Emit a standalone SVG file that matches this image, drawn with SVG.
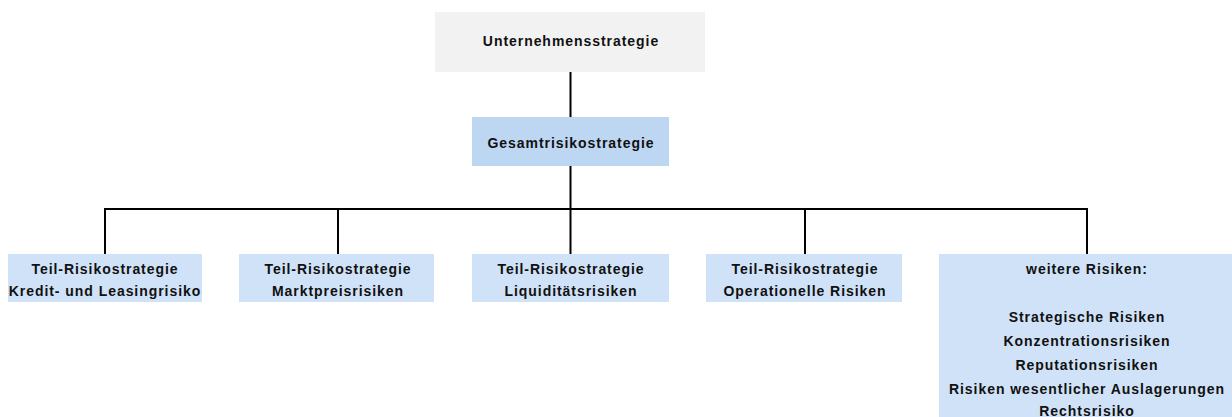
<svg xmlns="http://www.w3.org/2000/svg" width="1232" height="417" viewBox="0 0 1232 417">
<style>
.t{font-family:"Liberation Sans",Arial,sans-serif;font-weight:bold;font-size:14px;letter-spacing:0.95px;fill:#111;text-anchor:middle}
.leaf{fill:#cfe2f7}
.c{stroke:#000;stroke-width:2;fill:none}
</style>
<rect width="1232" height="417" fill="#fff"/>
<g id="connectors">
<path class="c" d="M570.5 72V117M570.5 166V209M105 209H1087M105 208V254M338 208V254M570.5 208V254M805 208V254M1087 208V254"/>
</g>
<g id="unternehmensstrategie">
<rect x="435" y="12" width="270" height="60" fill="#f2f2f2"/>
<text class="t" x="571" y="46">Unternehmensstrategie</text>
</g>
<g id="gesamtrisikostrategie">
<rect x="472" y="117" width="197" height="49" fill="#bdd7f3"/>
<text class="t" x="571" y="148">Gesamtrisikostrategie</text>
</g>
<g id="kredit">
<rect class="leaf" x="8" y="254" width="194" height="48"/>
<text class="t" x="105" y="274">Teil-Risikostrategie</text>
<text class="t" x="105" y="296">Kredit- und Leasingrisiko</text>
</g>
<g id="marktpreis">
<rect class="leaf" x="239" y="254" width="195" height="48"/>
<text class="t" x="338" y="274">Teil-Risikostrategie</text>
<text class="t" x="338" y="296">Marktpreisrisiken</text>
</g>
<g id="liquiditaet">
<rect class="leaf" x="472" y="254" width="197" height="48"/>
<text class="t" x="571" y="274">Teil-Risikostrategie</text>
<text class="t" x="571" y="296">Liquiditätsrisiken</text>
</g>
<g id="operationell">
<rect class="leaf" x="706" y="254" width="196" height="48"/>
<text class="t" x="805" y="274">Teil-Risikostrategie</text>
<text class="t" x="805" y="296">Operationelle Risiken</text>
</g>
<g id="weitere">
<rect class="leaf" x="939" y="254" width="293" height="163"/>
<text class="t" x="1087" y="274">weitere Risiken:</text>
<text class="t" x="1087" y="322">Strategische Risiken</text>
<text class="t" x="1087" y="346">Konzentrationsrisiken</text>
<text class="t" x="1087" y="370">Reputationsrisiken</text>
<text class="t" x="1087" y="394">Risiken wesentlicher Auslagerungen</text>
<text class="t" x="1087" y="415.5">Rechtsrisiko</text>
</g>
</svg>
